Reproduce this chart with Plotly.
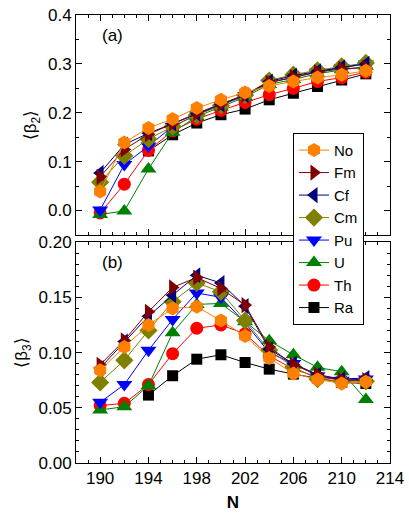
import plotly.graph_objects as go
from plotly.subplots import make_subplots

N = [190, 192, 194, 196, 198, 200, 202, 204, 206, 208, 210, 212]
N_Ra = [194, 196, 198, 200, 202, 204, 206, 208, 210, 212]

names = ["Ra", "Th", "U", "Pu", "Cm", "Cf", "Fm", "No"]
colors = ["#000000", "#FF0000", "#008000", "#0000FF", "#808000", "#000080", "#800000", "#FF8000"]
symbols = ["square", "circle", "triangle-up", "triangle-down", "diamond", "triangle-left", "triangle-right", "hexagon"]
msizes = [11, 13, 14, 14, 14, 14, 14, 14]

# panel (a): <beta2>
beta2 = {
    "Ra": [0.122, 0.155, 0.179, 0.196, 0.2075, 0.2265, 0.240, 0.2537, 0.267, 0.2796],
    "Th": [-0.005, 0.054, 0.123, 0.163, 0.187, 0.205, 0.221, 0.237, 0.250, 0.264, 0.272, 0.283],
    "U":  [-0.008, -0.001, 0.085, 0.160, 0.192, 0.212, 0.232, 0.258, 0.268, 0.280, 0.288, 0.295],
    "Pu": [0.001, 0.094, 0.132, 0.172, 0.196, 0.215, 0.235, 0.262, 0.272, 0.284, 0.292, 0.300],
    "Cm": [0.058, 0.112, 0.146, 0.172, 0.195, 0.215, 0.236, 0.266, 0.278, 0.287, 0.295, 0.302],
    "Cf": [0.077, 0.135, 0.158, 0.178, 0.198, 0.217, 0.236, 0.264, 0.276, 0.285, 0.293, 0.300],
    "Fm": [0.069, 0.125, 0.156, 0.178, 0.199, 0.218, 0.237, 0.262, 0.273, 0.283, 0.290, 0.292],
    "No": [0.039, 0.139, 0.169, 0.187, 0.2096, 0.2265, 0.2415, 0.255, 0.264, 0.272, 0.2776, 0.286],
}

# panel (b): <beta3>
beta3 = {
    "Ra": [0.0615, 0.079, 0.094, 0.098, 0.091, 0.085, 0.0805, 0.077, 0.073, 0.072],
    "Th": [0.052, 0.054, 0.071, 0.099, 0.122, 0.125, 0.117, 0.097, 0.085, 0.078, 0.075, 0.075],
    "U":  [0.048, 0.051, 0.070, 0.118, 0.1436, 0.1445, 0.128, 0.1107, 0.098, 0.0866, 0.0826, 0.0576],
    "Pu": [0.055, 0.071, 0.102, 0.130, 0.154, 0.150, 0.127, 0.100, 0.090, 0.079, 0.075, 0.076],
    "Cm": [0.073, 0.093, 0.120, 0.146, 0.163, 0.155, 0.129, 0.102, 0.087, 0.076, 0.074, 0.074],
    "Cf": [0.086, 0.110, 0.133, 0.152, 0.170, 0.163, 0.142, 0.103, 0.090, 0.080, 0.076, 0.077],
    "Fm": [0.089, 0.111, 0.137, 0.159, 0.168, 0.158, 0.143, 0.105, 0.089, 0.080, 0.075, 0.075],
    "No": [0.084, 0.105, 0.125, 0.140, 0.1415, 0.129, 0.115, 0.095, 0.081, 0.0757, 0.072, 0.0736],
}

fig = make_subplots(rows=2, cols=1, shared_xaxes=False, vertical_spacing=0.016)

for row, data, show in [(1, beta2, False), (2, beta3, True)]:
    for name, c, s, ms in zip(names, colors, symbols, msizes):
        x = N_Ra if name == "Ra" else N
        fig.add_trace(go.Scatter(
            x=x, y=data[name], mode="lines+markers", name=name,
            line=dict(color=c, width=1),
            marker=dict(symbol=s, color=c, size=ms, line=dict(width=0)),
            showlegend=show, legendgroup=name,
        ), row=row, col=1)

font = dict(family="Liberation Sans, Arial, sans-serif", size=17, color="black")
axis_common = dict(showline=True, linecolor="black", linewidth=1, mirror="allticks",
                   ticks="inside", ticklen=6, tickcolor="black", showgrid=False,
                   zeroline=False, tickfont=font, automargin=False)

fig.update_xaxes(**axis_common, range=[188, 214], dtick=4, tick0=190,
                 minor=dict(ticks="inside", ticklen=3, dtick=1, tickcolor="black"))
fig.update_xaxes(showticklabels=False, row=1, col=1)
fig.update_xaxes(title=dict(text="<b>N</b>", font=font, standoff=8), row=2, col=1)

fig.update_yaxes(**axis_common)
fig.update_yaxes(range=[-0.05, 0.4], dtick=0.1, tick0=0, tickformat=".1f",
                 minor=dict(ticks="inside", ticklen=3, dtick=0.05, tickcolor="black"),
                 title=dict(text="⟨β<sub>2</sub>⟩", font=font, standoff=6), row=1, col=1)
fig.update_yaxes(range=[0, 0.2], dtick=0.05, tick0=0, tickformat=".2f",
                 minor=dict(ticks="inside", ticklen=3, dtick=0.01, tickcolor="black"),
                 title=dict(text="⟨β<sub>3</sub>⟩", font=font, standoff=6), row=2, col=1)

fig.update_layout(
    width=409, height=516,
    margin=dict(l=76, r=19, t=15, b=53, autoexpand=False),
    plot_bgcolor="white", paper_bgcolor="white",
    font=font,
    legend=dict(x=0.691, y=0.737, xanchor="left", yanchor="top",
                bordercolor="black", borderwidth=1, bgcolor="white",
                traceorder="reversed", font=dict(family=font["family"], size=15, color="black"),
                itemwidth=30, tracegroupgap=0),
)
fig.update_layout(yaxis=dict(domain=[0.509, 1.0]), yaxis2=dict(domain=[0.0, 0.493]))

fig.add_annotation(text="(a)", x=0.075, y=0.955, xref="paper", yref="paper",
                   showarrow=False, font=font, xanchor="left", yanchor="middle")
fig.add_annotation(text="(b)", x=0.075, y=0.447, xref="paper", yref="paper",
                   showarrow=False, font=font, xanchor="left", yanchor="middle")

fig.write_html("out.html", config={"displayModeBar": False},
               post_script="document.body.style.margin='0';document.body.style.overflow='hidden';")
